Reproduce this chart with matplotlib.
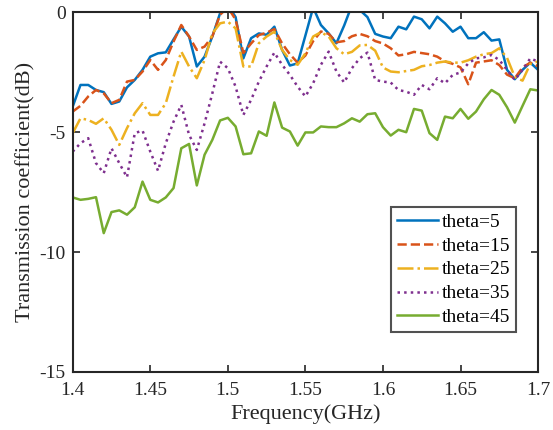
import matplotlib
matplotlib.use("Agg")
import matplotlib.pyplot as plt
import numpy as np

plt.rcParams["font.family"] = ["Liberation Serif", "DejaVu Serif"]
plt.rcParams["axes.unicode_minus"] = False

# frequency grid, 0.005 GHz step
freq = np.linspace(1.4, 1.7, 61)

theta_5 = [-3.93, -3.03, -3.03, -3.24, -3.33, -3.82, -3.72, -3.13, -2.82, -2.40,
           -1.85, -1.71, -1.67, -1.13, -0.60, -1.01, -2.26, -1.85, -1.01, -0.04,
           0.30, -0.20, -1.92, -1.08, -0.88, -0.94, -0.60, -1.57, -2.22, -2.13,
           -0.97, 0.20, -0.53, -0.88, -1.29, -0.55, 0.30, 0.10, -0.20, -0.90,
           -1.01, -1.08, -0.60, -0.71, -0.18, -0.29, -0.67, -0.18, -0.46, -0.81,
           -0.60, -1.08, -1.08, -0.83, -1.18, -1.13, -2.40, -2.79, -2.40, -2.10,
           -2.40]
theta_15 = [-4.14, -3.90, -3.51, -3.24, -3.38, -3.79, -3.65, -2.89, -2.82, -2.47,
            -1.99, -2.40, -1.99, -1.22, -0.53, -1.01, -1.57, -1.43, -1.01, -0.10,
            0.20, -0.30, -1.70, -1.30, -0.95, -0.85, -0.70, -1.30, -1.75, -2.10,
            -1.80, -1.20, -0.80, -0.90, -1.25, -1.20, -1.00, -0.90, -1.00, -1.20,
            -1.30, -1.50, -1.80, -1.75, -1.65, -1.70, -1.75, -1.85, -2.05, -2.15,
            -2.30, -3.00, -2.10, -2.05, -2.00, -2.20, -2.60, -2.75, -2.30, -2.10,
            -2.25]
theta_25 = [-5.04, -4.42, -4.49, -4.65, -4.42, -4.90, -5.53, -4.83, -4.21, -3.79,
            -4.28, -4.28, -3.79, -2.68, -1.64, -2.26, -2.75, -1.99, -0.88, -0.46,
            -0.39, -0.67, -2.26, -2.26, -1.29, -1.01, -0.81, -1.57, -1.99, -2.19,
            -1.71, -1.01, -0.83, -1.01, -1.50, -1.75, -1.65, -1.38, -1.36, -1.60,
            -2.30, -2.47, -2.50, -2.45, -2.40, -2.25, -2.20, -2.10, -2.05, -2.10,
            -2.10, -2.00, -1.85, -1.75, -1.70, -1.50, -1.90, -2.70, -2.85, -2.15,
            -2.05]
theta_35 = [-5.81, -5.46, -5.25, -6.29, -6.71, -5.67, -6.29, -6.88, -5.04, -4.93,
            -5.81, -6.61, -5.46, -4.56, -3.86, -5.11, -5.74, -4.63, -3.38, -2.06,
            -2.33, -3.10, -4.28, -3.65, -2.89, -2.26, -1.68, -2.19, -2.61, -3.10,
            -3.51, -2.96, -2.19, -1.64, -2.47, -2.93, -2.33, -1.92, -1.68, -2.82,
            -2.89, -2.93, -3.24, -3.31, -3.44, -3.03, -3.21, -2.75, -2.96, -2.61,
            -2.51, -2.13, -1.92, -1.88, -1.78, -1.99, -2.40, -2.82, -2.40, -1.92,
            -2.06]
theta_45 = [-7.72, -7.82, -7.78, -7.71, -9.21, -8.33, -8.26, -8.44, -8.13, -7.06,
            -7.82, -7.93, -7.72, -7.33, -5.67, -5.49, -7.22, -5.94, -5.32, -4.51,
            -4.40, -4.76, -5.92, -5.88, -4.97, -5.15, -3.76, -4.81, -4.97, -5.56,
            -5.01, -5.01, -4.76, -4.79, -4.79, -4.63, -4.42, -4.56, -4.25, -4.21,
            -4.79, -5.14, -4.90, -5.00, -4.03, -4.10, -5.04, -5.32, -4.35, -4.42,
            -4.03, -4.44, -4.14, -3.63, -3.24, -3.44, -3.96, -4.60, -3.90, -3.21,
            -3.26]

series = [theta_5, theta_15, theta_25, theta_35, theta_45]
labels = ["theta=5", "theta=15", "theta=25", "theta=35", "theta=45"]
colors = ["#0072BD", "#D95319", "#EDB120", "#7E2F8E", "#77AC30"]
styles = ["-", "--", "-.", ":", "-"]

x_ticks = [1.4, 1.45, 1.5, 1.55, 1.6, 1.65, 1.7]
x_tick_labels = ["1.4", "1.45", "1.5", "1.55", "1.6", "1.65", "1.7"]
y_ticks = [-15, -10, -5, 0]

fig = plt.figure(figsize=(5.53, 4.30), dpi=100)
ax = fig.add_axes([0.1315, 0.1349, 0.8415, 0.8365])

for vals, lab, col, ls in zip(series, labels, colors, styles):
    ax.plot(freq, vals, color=col, linestyle=ls, linewidth=1.8, label=lab)

ax.set_xlim(1.4, 1.7)
ax.set_ylim(-15, 0)
ax.set_xticks(x_ticks)
ax.set_xticklabels(x_tick_labels)
ax.set_yticks(y_ticks)
ax.set_yticklabels([str(v) for v in y_ticks])
ax.tick_params(direction="in", top=True, right=True, length=5, width=1.2,
               labelsize=14, colors="#262626")
ax.tick_params(axis="x", pad=7)
ax.tick_params(axis="y", pad=5)
for sp in ax.spines.values():
    sp.set_linewidth(1.5)
    sp.set_color("#262626")

ax.set_xlabel("Frequency(GHz)", fontsize=16, color="#262626", labelpad=4)
ax.set_ylabel("Transmission coefficient(dB)", fontsize=16, color="#262626", labelpad=3)

leg = ax.legend(loc="lower right", bbox_to_anchor=(0.9527, 0.1112), borderaxespad=0,
                fontsize=14, frameon=True, fancybox=False, handlelength=2.1,
                labelspacing=0.32, handletextpad=0.2, borderpad=0.3)
leg.get_frame().set_edgecolor("#262626")
leg.get_frame().set_linewidth(1.5)

fig.savefig("out.png", dpi=100)
